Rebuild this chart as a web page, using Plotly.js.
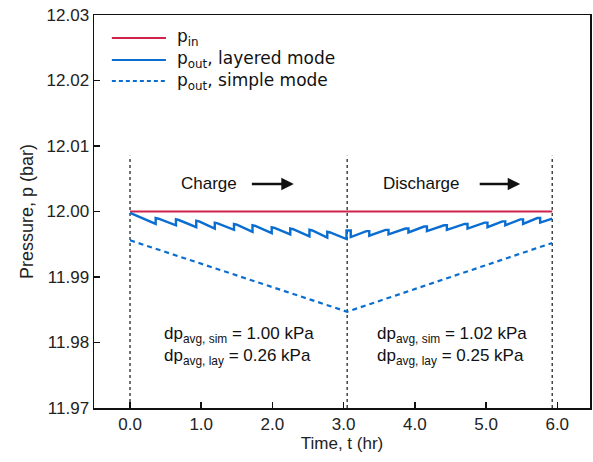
<!DOCTYPE html>
<html>
<head>
<meta charset="utf-8">
<script src="https://cdn.plot.ly/plotly-3.0.1.min.js"></script>
<style>html,body{margin:0;padding:0;background:#fff;}#chart{width:593px;height:462px;}</style>
</head>
<body>
<div id="chart"></div>
<script>
// ---- data ----
const tIn = [0, 5.93];
const pIn = [12.000, 12.000];

const tSimple = [0, 3.05, 5.93];
const pSimple = [11.9956, 11.9847, 11.9952];

const tLayered = [
  0.00, 0.36, 0.36, 0.40, 0.645, 0.645, 0.685, 0.93, 0.93, 0.97,
  1.19, 1.19, 1.23, 1.46, 1.46, 1.50, 1.72, 1.72, 1.76, 1.99,
  1.99, 2.03, 2.25, 2.25, 2.29, 2.52, 2.52, 2.56, 2.77, 2.77,
  2.81, 3.04,
  3.04, 3.10, 3.10, 3.32, 3.36, 3.36, 3.59, 3.63, 3.63, 3.87,
  3.91, 3.91, 4.13, 4.17, 4.17, 4.41, 4.45, 4.45, 4.70, 4.74,
  4.74, 4.98, 5.02, 5.02, 5.23, 5.27, 5.27, 5.48, 5.52, 5.52,
  5.72, 5.76, 5.76, 5.93
];
const pLayered = [
  11.9998, 11.9981, 11.9990, 11.9989, 11.9979, 11.9988, 11.9987, 11.9976, 11.9986, 11.9985,
  11.9974, 11.9983, 11.9982, 11.9972, 11.9981, 11.9980, 11.9969, 11.9979, 11.9978, 11.9967,
  11.9976, 11.9975, 11.9965, 11.9974, 11.9973, 11.9962, 11.9972, 11.9971, 11.9960, 11.9969,
  11.9968, 11.9958,
  11.9971, 11.9971, 11.9961, 11.9970, 11.9970, 11.9963, 11.9972, 11.9972, 11.9965, 11.9974,
  11.9974, 11.9968, 11.9977, 11.9977, 11.9970, 11.9979, 11.9979, 11.9972, 11.9981, 11.9981,
  11.9974, 11.9983, 11.9983, 11.9976, 11.9985, 11.9985, 11.9979, 11.9988, 11.9988, 11.9981,
  11.9990, 11.9990, 11.9983, 11.9989
];

const phaseLines = [0, 3.05, 5.93];
const xTicks = [0, 1, 2, 3, 4, 5, 6];
const xTickLabels = ['0.0', '1.0', '2.0', '3.0', '4.0', '5.0', '6.0'];
const yTicks = [11.97, 11.98, 11.99, 12.00, 12.01, 12.02, 12.03];
const yTickLabels = ['11.97', '11.98', '11.99', '12.00', '12.01', '12.02', '12.03'];

const legendNames = ['p<sub>in</sub>', 'p<sub>out</sub>, layered mode', 'p<sub>out</sub>, simple mode'];
const dpLeft = 'dp<sub>avg, sim</sub> = 1.00 kPa<br>dp<sub>avg, lay</sub> = 0.26 kPa';
const dpRight = 'dp<sub>avg, sim</sub> = 1.02 kPa<br>dp<sub>avg, lay</sub> = 0.25 kPa';

// ---- style ----
const RED = '#d0234a';
const BLUE = '#0a6ed1';
const ARIAL = 'Liberation Sans, Arial, sans-serif';
const WIDE = 'DejaVu Sans, Verdana, sans-serif';

const traces = [
  {x: tIn, y: pIn, mode: 'lines', line: {color: RED, width: 2}, name: legendNames[0], hoverinfo: 'skip'},
  {x: tLayered, y: pLayered, mode: 'lines', line: {color: BLUE, width: 2.4}, name: legendNames[1], hoverinfo: 'skip'},
  {x: tSimple, y: pSimple, mode: 'lines', line: {color: BLUE, width: 2.2, dash: '5px,4px'}, name: legendNames[2], hoverinfo: 'skip'}
];

const shapes = phaseLines.map(t => ({
  type: 'line', xref: 'x', yref: 'y', x0: t, x1: t, y0: 11.97, y1: 12.0085,
  line: {color: '#444', width: 1.5, dash: 'dot'}, layer: 'below'
}));

// custom legend
const legRowsY = [0.9415, 0.8855, 0.832];
const legDash = ['solid', 'solid', '4px,3px'];
const legColor = [RED, BLUE, BLUE];
legRowsY.forEach((yy, i) => {
  shapes.push({type: 'line', xref: 'paper', yref: 'paper', x0: 0.036, x1: 0.145, y0: yy, y1: yy,
    line: {color: legColor[i], width: 2, dash: legDash[i]}});
});

const annotations = legRowsY.map((yy, i) => ({
  xref: 'paper', yref: 'paper', x: 0.164, y: yy, xanchor: 'left', yanchor: 'middle',
  text: legendNames[i], showarrow: false, font: {family: WIDE, size: 17, color: '#111'}
}));

annotations.push(
  {xref: 'x', yref: 'y', x: 1.11, y: 12.0042, text: 'Charge', showarrow: false, font: {family: ARIAL, size: 17, color: '#111'}},
  {xref: 'x', yref: 'y', x: 4.09, y: 12.0042, text: 'Discharge', showarrow: false, font: {family: ARIAL, size: 17, color: '#111'}},
  {xref: 'x', yref: 'y', x: 2.30, y: 12.0042, ax: 1.69, ay: 12.0042, axref: 'x', ayref: 'y', text: '', showarrow: true,
    arrowhead: 2, arrowsize: 1, arrowwidth: 2.5, arrowcolor: '#111'},
  {xref: 'x', yref: 'y', x: 5.48, y: 12.0042, ax: 4.89, ay: 12.0042, axref: 'x', ayref: 'y', text: '', showarrow: true,
    arrowhead: 2, arrowsize: 1, arrowwidth: 2.5, arrowcolor: '#111'},
  {xref: 'x', yref: 'y', x: 0.45, y: 11.9794, xanchor: 'left', yanchor: 'middle', align: 'left', text: dpLeft, showarrow: false,
    font: {family: ARIAL, size: 17, color: '#111'}},
  {xref: 'x', yref: 'y', x: 3.44, y: 11.9794, xanchor: 'left', yanchor: 'middle', align: 'left', text: dpRight, showarrow: false,
    font: {family: ARIAL, size: 17, color: '#111'}}
);

const layout = {
  width: 593, height: 462,
  margin: {l: 94, r: 3, t: 15, b: 54},
  paper_bgcolor: '#fff', plot_bgcolor: '#fff',
  showlegend: false,
  font: {family: ARIAL, size: 17, color: '#222'},
  xaxis: {
    range: [-0.506, 6.46], tickvals: xTicks, ticktext: xTickLabels,
    ticks: 'inside', ticklen: 6, tickwidth: 1.5, tickcolor: '#111',
    showline: true, linecolor: '#111', linewidth: 1.5, mirror: true,
    showgrid: false, zeroline: false,
    tickfont: {family: ARIAL, size: 17, color: '#222'},
    title: {text: 'Time, t (hr)', font: {family: ARIAL, size: 17, color: '#222'}, standoff: 0}
  },
  yaxis: {
    range: [11.97, 12.03], tickvals: yTicks, ticktext: yTickLabels,
    ticks: 'inside', ticklen: 6, tickwidth: 1.5, tickcolor: '#111',
    showline: true, linecolor: '#111', linewidth: 1.5, mirror: true,
    showgrid: false, zeroline: false,
    tickfont: {family: ARIAL, size: 17, color: '#222'},
    title: {text: 'Pressure, p (bar)', font: {family: ARIAL, size: 18, color: '#222'}, standoff: 8}
  },
  shapes: shapes,
  annotations: annotations
};

Plotly.newPlot('chart', traces, layout, {displayModeBar: false, staticPlot: true});
</script>
</body>
</html>
